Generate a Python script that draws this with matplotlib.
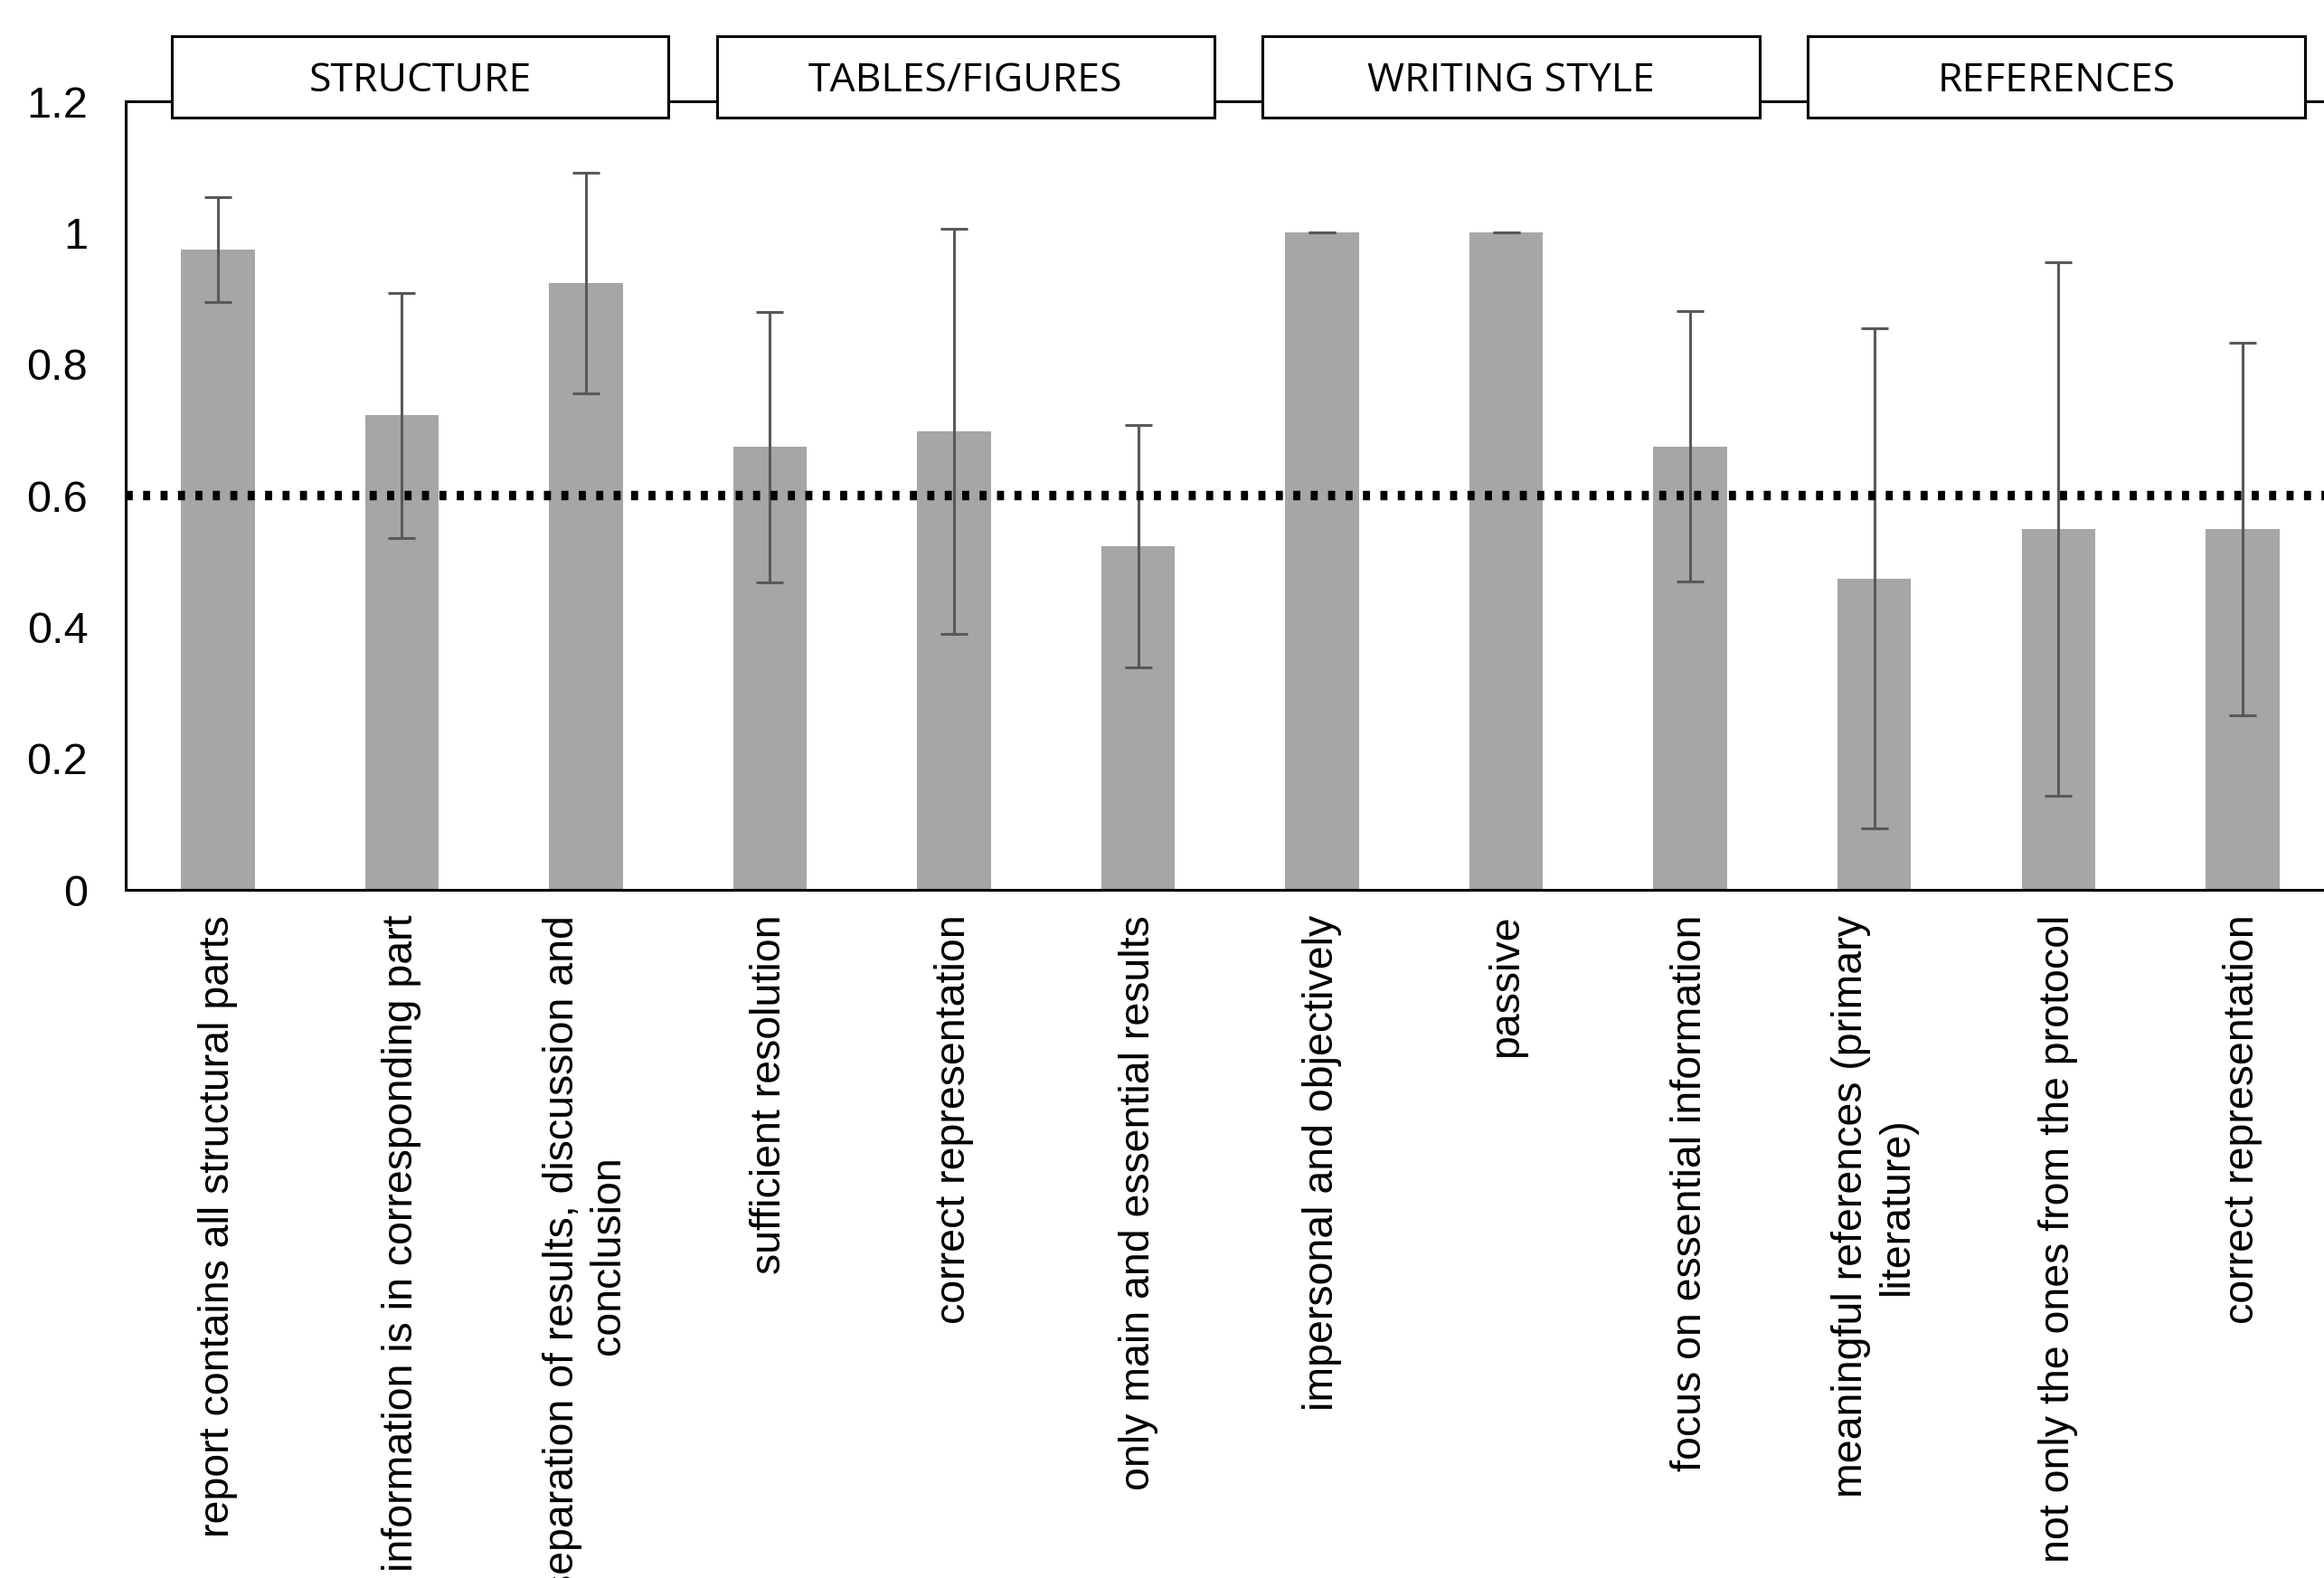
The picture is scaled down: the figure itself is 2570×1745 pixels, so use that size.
import matplotlib.pyplot as plt
from matplotlib.patches import Rectangle

plt.rcParams["font.family"] = ["Liberation Sans", "DejaVu Sans"]

categories = [
    "report contains all structural parts",
    "information is in corresponding part",
    "separation of results, discussion and\nconclusion",
    "sufficient resolution",
    "correct representation",
    "only main and essential results",
    "impersonal and objectively",
    "passive",
    "focus on essential information",
    "meaningful references (primary\nliterature)",
    "not only the ones from the protocol",
    "correct representation",
]
means = [0.974, 0.722, 0.924, 0.674, 0.698, 0.523, 1.0, 1.0, 0.675, 0.474, 0.549, 0.549]
errors = [0.080, 0.186, 0.168, 0.206, 0.308, 0.185, 0.0, 0.0, 0.206, 0.381, 0.406, 0.283]
groups = ["STRUCTURE", "TABLES/FIGURES", "WRITING STYLE", "REFERENCES"]
threshold = 0.6

fig = plt.figure(figsize=(25.7, 17.45), dpi=100)
ax = fig.add_axes([0.0541, 0.4361, 0.9504, 0.4997])

x = list(range(len(categories)))
ax.bar(x, means, width=0.40, color="#a6a6a6", zorder=2)
ax.errorbar(x, means, yerr=errors, fmt="none", ecolor="#595959",
            elinewidth=2.2, capsize=11, capthick=2.2, zorder=3)
ax.axhline(threshold, color="black", linewidth=7.5, linestyle=(0, (0.75, 1.1)),
           zorder=4)

ax.set_xlim(-0.5, len(categories) - 0.5)
ax.set_ylim(0, 1.2)
ax.set_yticks([0, 0.2, 0.4, 0.6, 0.8, 1.0, 1.2])
ax.set_yticklabels(["0", "0.2", "0.4", "0.6", "0.8", "1", "1.2"],
                   family=["Liberation Sans Narrow", "Liberation Sans"],
                   fontsize=35)
ax.tick_params(axis="y", length=0, pad=30)
ax.set_xticks(x)
ax.set_xticklabels(categories, rotation=90, ha="center", va="top",
                   multialignment="center", fontsize=33.5)
ax.tick_params(axis="x", length=0, pad=20)

for side in ["left", "bottom", "top"]:
    ax.spines[side].set_linewidth(2.2)
    ax.spines[side].set_color("black")
ax.spines["right"].set_visible(False)

# category header boxes sitting on the top spine
for g, name in enumerate(groups):
    x0 = -0.25 + 2.963 * g
    rect = Rectangle((x0, 1.175), 2.70, 0.124, transform=ax.transData,
                     facecolor="white", edgecolor="black", linewidth=2.2,
                     clip_on=False, zorder=5)
    ax.add_patch(rect)
    ax.text(x0 + 1.35, 1.230, name, ha="center", va="center", fontsize=32,
            family=["Open Sans", "DejaVu Sans"], clip_on=False, zorder=6)

fig.savefig("out.png", dpi=100)
